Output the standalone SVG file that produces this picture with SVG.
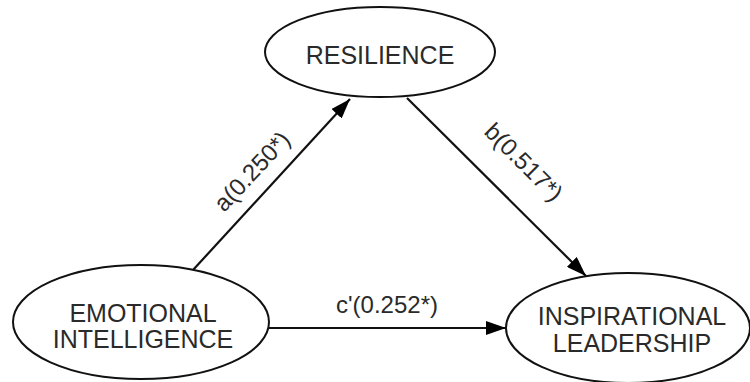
<svg xmlns="http://www.w3.org/2000/svg" width="750" height="382" viewBox="0 0 750 382">
<defs>
<marker id="arr" viewBox="0 0 10 10" refX="10" refY="5" markerWidth="20" markerHeight="14" markerUnits="userSpaceOnUse" orient="auto" preserveAspectRatio="none">
<path d="M0,0 L10,5 L0,10 z" fill="#000"/>
</marker>
</defs>
<style>
.node ellipse{fill:#fff;stroke:#111;stroke-width:2}
.node text{font-family:"Liberation Sans",Arial,sans-serif;font-size:25px;fill:#2a2a2a;text-anchor:middle}
.edges line{stroke:#111;stroke-width:2.2;marker-end:url(#arr)}
.lbl{font-family:"Liberation Sans",Arial,sans-serif;font-size:24px;fill:#2a2a2a;text-anchor:middle}
</style>
<rect width="750" height="382" fill="#fff"/>
<g class="edges">
<line x1="193" y1="270" x2="350" y2="99"/>
<line x1="407" y1="98" x2="586" y2="276"/>
<line x1="268" y1="328" x2="506" y2="328"/>
<text class="lbl" transform="translate(258,177) rotate(-47)">a(0.250*)</text>
<text class="lbl" transform="translate(518,168) rotate(45)">b(0.517*)</text>
<text class="lbl" x="387" y="313">c'(0.252*)</text>
</g>
<g id="resilience" class="node">
<ellipse cx="380" cy="52" rx="115" ry="45"/>
<text x="380" y="64">RESILIENCE</text>
</g>
<g id="emotional-intelligence" class="node">
<ellipse cx="141" cy="322" rx="128" ry="57"/>
<text x="143" y="322">EMOTIONAL</text>
<text x="143" y="348">INTELLIGENCE</text>
</g>
<g id="inspirational-leadership" class="node">
<ellipse cx="628" cy="328" rx="122" ry="55"/>
<text x="632" y="325">INSPIRATIONAL</text>
<text x="632" y="352">LEADERSHIP</text>
</g>
</svg>
